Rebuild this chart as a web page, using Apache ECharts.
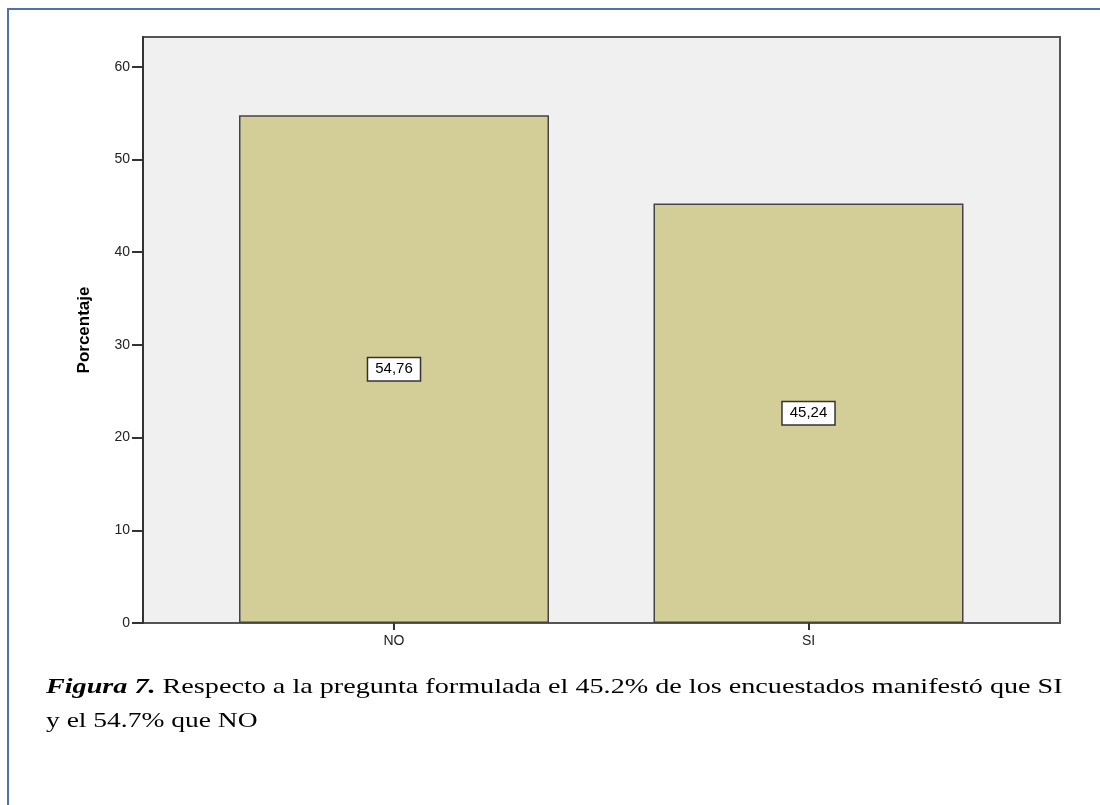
<!DOCTYPE html>
<html>
<head>
<meta charset="utf-8">
<script src="https://cdn.jsdelivr.net/npm/echarts@6/dist/echarts.min.js"></script>
<style>
html,body{margin:0;padding:0;background:#fff;}
#chart{width:1100px;height:805px;}
</style>
</head>
<body>
<div id="chart"></div>
<script>
var categories = ['NO', 'SI'];
var percentages = [54.76, 45.24];
var yTicks = [0, 10, 20, 30, 40, 50, 60];
var yAxisTitle = 'Porcentaje';
var captionBold = 'Figura 7.';
var captionLine1 = ' Respecto a la pregunta formulada el 45.2% de los encuestados manifestó que SI';
var captionLine2 = 'y el 54.7% que NO';

var chart = echarts.init(document.getElementById('chart'), null, {renderer: 'canvas'});
var sans = 'Liberation Sans, Arial, sans-serif';
var serifFont = '"Liberation Serif", "Times New Roman", serif';
var option = {
  animation: false,
  backgroundColor: '#ffffff',
  grid: [
    {left: 143, top: 37, width: 917, height: 586, show: true, backgroundColor: '#f0f0f0', borderColor: '#555', borderWidth: 2},
    {left: 186.75, top: 37, width: 829, height: 586}
  ],
  xAxis: [
    {gridIndex: 0, type: 'value', min: 0, max: 1, show: false},
    {gridIndex: 1, type: 'category', data: categories,
     axisLine: {show: false},
     axisTick: {show: true, alignWithLabel: true, length: 7, lineStyle: {color: '#333', width: 2}},
     axisLabel: {fontFamily: sans, fontSize: 14, color: '#222', margin: 11}}
  ],
  yAxis: [
    {gridIndex: 0, type: 'value', min: 0, max: 63.2,
     name: yAxisTitle, nameLocation: 'middle', nameRotate: 90, nameGap: 50,
     nameTextStyle: {fontFamily: sans, fontSize: 17, fontWeight: 'bold', color: '#000'},
     axisLine: {show: true, lineStyle: {color: '#333', width: 2}},
     axisTick: {show: true, length: 11, customValues: yTicks, lineStyle: {color: '#333', width: 2}},
     axisLabel: {customValues: yTicks, fontFamily: sans, fontSize: 14, color: '#222', margin: 13},
     splitLine: {show: false}},
    {gridIndex: 1, type: 'value', min: 0, max: 63.2, show: false, splitLine: {show: false}}
  ],
  series: [{
    type: 'bar',
    xAxisIndex: 1, yAxisIndex: 1,
    data: percentages,
    barWidth: 310,
    itemStyle: {color: '#d3ce97', borderColor: '#444', borderWidth: 1.5},
    label: {
      show: true, position: 'inside',
      formatter: function (p) { return p.value.toFixed(2).replace('.', ','); },
      fontFamily: sans, fontSize: 15, color: '#000',
      backgroundColor: '#fff', borderColor: '#333', borderWidth: 1.5, padding: [4, 7, 3, 7]
    }
  }],
  graphic: [
    {type: 'line', shape: {x1: 7, y1: 9, x2: 1100, y2: 9}, style: {stroke: '#4f72a8', lineWidth: 2}, silent: true},
    {type: 'line', shape: {x1: 8, y1: 8, x2: 8, y2: 805}, style: {stroke: '#4f72a8', lineWidth: 2}, silent: true},
    {type: 'text', x: 46, y: 670, scaleX: 1.28, scaleY: 1,
     style: {
       text: '{b|' + captionBold + '}' + captionLine1,
       font: '22px ' + serifFont, fill: '#000', lineHeight: 34, verticalAlign: 'top',
       rich: {b: {font: 'italic bold 22px ' + serifFont, fill: '#000', lineHeight: 34}}
     }},
    {type: 'text', x: 46, y: 704, scaleX: 1.25, scaleY: 1,
     style: {text: captionLine2, font: '22px ' + serifFont, fill: '#000', lineHeight: 34, verticalAlign: 'top'}}
  ]
};
chart.setOption(option);
</script>
</body>
</html>
